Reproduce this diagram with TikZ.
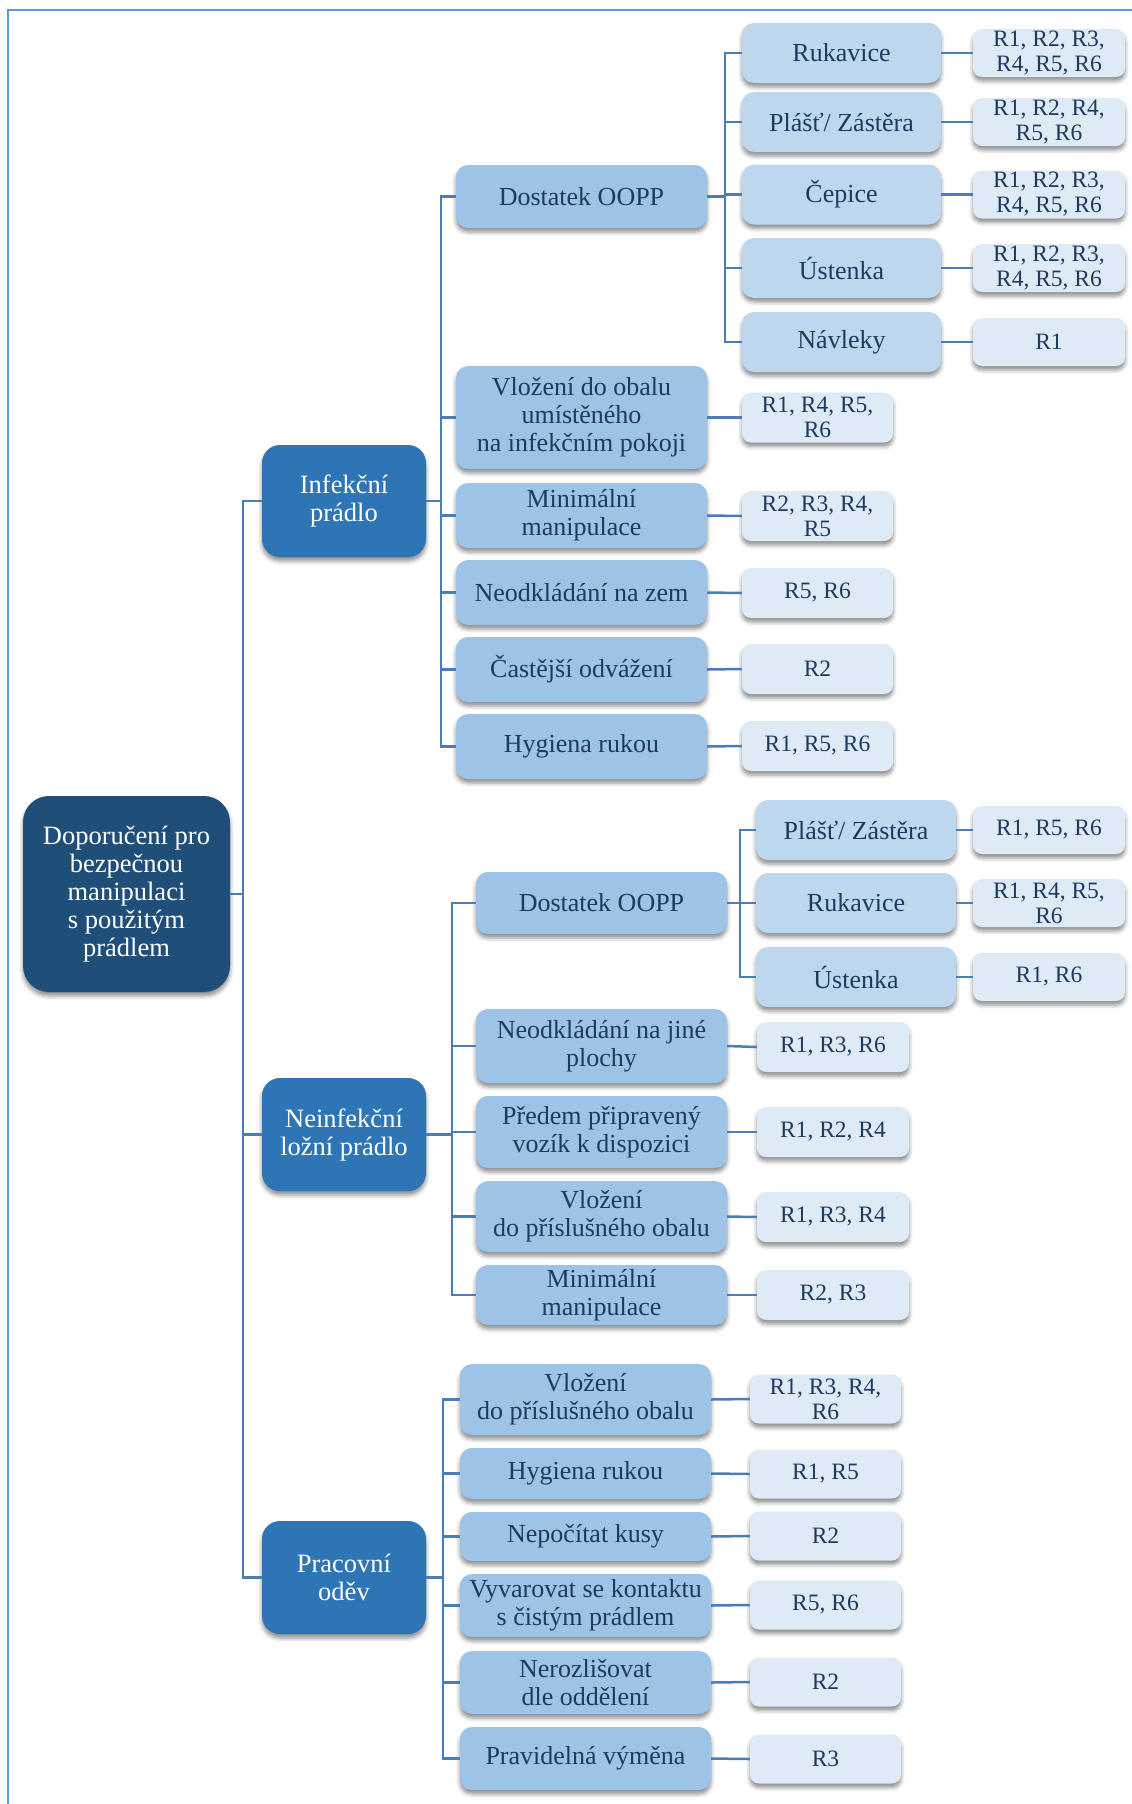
\documentclass[tikz,border=0pt]{standalone}
\usepackage{fontspec}
\setmainfont{Liberation Serif}
\usetikzlibrary{shadows.blur}
\definecolor{rootc}{HTML}{1F4E79}
\definecolor{lonec}{HTML}{2E75B6}
\definecolor{ltwoc}{HTML}{9DC3E6}
\definecolor{lthreec}{HTML}{BDD7EE}
\definecolor{rc}{HTML}{DEEBF7}
\definecolor{txtc}{HTML}{1F3A5F}
\definecolor{linec}{HTML}{4A7DB8}
\definecolor{framec}{HTML}{5B9BD5}
\tikzset{
  box/.style={rounded corners=10pt, align=center, inner sep=1pt,
    blur shadow={shadow xshift=0pt, shadow yshift=-4pt, shadow blur radius=4pt, shadow opacity=45}},
  rootbox/.style={box, fill=rootc, text=white, rounded corners=26pt, font=\fontsize{26.5}{28}\selectfont},
  onebox/.style={box, fill=lonec, text=white, rounded corners=18pt, font=\fontsize{26.5}{28}\selectfont},
  twobox/.style={box, fill=ltwoc, text=txtc, rounded corners=12pt, minimum width=251pt, font=\fontsize{26}{28}\selectfont},
  threebox/.style={box, fill=lthreec, text=txtc, rounded corners=12pt, minimum height=60pt, font=\fontsize{26}{28}\selectfont},
  rbox/.style={box, fill=rc, text=txtc, rounded corners=9pt, font=\fontsize{23.5}{25}\selectfont},
  conn/.style={draw=linec, line width=2.5pt},
}
\begin{document}
\begin{tikzpicture}[x=1pt,y=-1pt]
\useasboundingbox (0,0) rectangle (1132,1804);
\draw[framec, line width=2pt] (7.5,1804) -- (7.5,10) -- (1132,10);

% bars
\coordinate (bT) at (243,0);
\coordinate (bI) at (441,0);
\coordinate (bID) at (725,0);
\coordinate (bN) at (452,0);
\coordinate (bND) at (740,0);
\coordinate (bP) at (443,0);

% root and level 1
\node[rootbox, minimum width=207pt, minimum height=196pt] (root) at (126.5,894) {Doporučení pro\\bezpečnou\\manipulaci\\s použitým\\prádlem};
\node[onebox, minimum width=164pt, minimum height=112pt] (inf) at (344,501) {Infekční\\prádlo};
\node[onebox, minimum width=164pt, minimum height=113pt] (neinf) at (344,1134.5) {Neinfekční\\ložní prádlo};
\node[onebox, minimum width=164pt, minimum height=113pt] (prac) at (344,1577.5) {Pracovní\\oděv};

% Infekční level 2
\node[twobox, minimum height=63pt] (i1) at (581.5,196.5) {Dostatek OOPP};
\node[twobox, minimum height=103pt] (i2) at (581.5,417.5) {Vložení do obalu\\umístěného\\na infekčním pokoji};
\node[twobox, minimum height=65pt] (i3) at (581.5,515.5) {Minimální\\manipulace};
\node[twobox, minimum height=65pt] (i4) at (581.5,592.5) {Neodkládání na zem};
\node[twobox, minimum height=65pt] (i5) at (581.5,669.5) {Častější odvážení};
\node[twobox, minimum height=65pt] (i6) at (581.5,746.5) {Hygiena rukou};

% Infekční R
\node[rbox, minimum width=151pt, minimum height=50pt] (ir2) at (817.5,417.5) {R1, R4, R5,\\R6};
\node[rbox, minimum width=151pt, minimum height=50pt] (ir3) at (817.5,516) {R2, R3, R4,\\R5};
\node[rbox, minimum width=151pt, minimum height=50pt] (ir4) at (817.5,593) {R5, R6};
\node[rbox, minimum width=151pt, minimum height=50pt] (ir5) at (817.5,669) {R2};
\node[rbox, minimum width=151pt, minimum height=50pt] (ir6) at (817.5,746) {R1, R5, R6};

% Infekční Dostatek level 3
\node[threebox, minimum width=199pt] (id1) at (841.5,53) {Rukavice};
\node[threebox, minimum width=199pt] (id2) at (841.5,122) {Plášť/ Zástěra};
\node[threebox, minimum width=199pt] (id3) at (841.5,194.5) {Čepice};
\node[threebox, minimum width=199pt] (id4) at (841.5,268) {Ústenka};
\node[threebox, minimum width=199pt] (id5) at (841.5,342) {Návleky};
\node[rbox, minimum width=152pt, minimum height=48pt] (idr1) at (1049,53) {R1, R2, R3,\\R4, R5, R6};
\node[rbox, minimum width=152pt, minimum height=48pt] (idr2) at (1049,122) {R1, R2, R4,\\R5, R6};
\node[rbox, minimum width=152pt, minimum height=48pt] (idr3) at (1049,194.5) {R1, R2, R3,\\R4, R5, R6};
\node[rbox, minimum width=152pt, minimum height=48pt] (idr4) at (1049,268) {R1, R2, R3,\\R4, R5, R6};
\node[rbox, minimum width=152pt, minimum height=48pt] (idr5) at (1049,342) {R1};

% Neinfekční level 2
\node[twobox, minimum height=62pt] (n1) at (601.5,903) {Dostatek OOPP};
\node[twobox, minimum height=74pt] (n2) at (601.5,1046) {Neodkládání na jiné\\plochy};
\node[twobox, minimum height=72pt] (n3) at (601.5,1132) {Předem připravený\\vozík k dispozici};
\node[twobox, minimum height=71pt] (n4) at (601.5,1216.5) {Vložení\\do příslušného obalu};
\node[twobox, minimum height=60pt] (n5) at (601.5,1295) {Minimální\\manipulace};
\node[rbox, minimum width=152pt, minimum height=50pt] (nr2) at (833,1047) {R1, R3, R6};
\node[rbox, minimum width=152pt, minimum height=50pt] (nr3) at (833,1132) {R1, R2, R4};
\node[rbox, minimum width=152pt, minimum height=50pt] (nr4) at (833,1217) {R1, R3, R4};
\node[rbox, minimum width=152pt, minimum height=50pt] (nr5) at (833,1295) {R2, R3};

% Neinfekční Dostatek level 3
\node[threebox, minimum width=200pt] (nd1) at (856,830) {Plášť/ Zástěra};
\node[threebox, minimum width=200pt] (nd2) at (856,903) {Rukavice};
\node[threebox, minimum width=200pt] (nd3) at (856,977) {Ústenka};
\node[rbox, minimum width=152pt, minimum height=48pt] (ndr1) at (1049,830) {R1, R5, R6};
\node[rbox, minimum width=152pt, minimum height=48pt] (ndr2) at (1049,903) {R1, R4, R5,\\R6};
\node[rbox, minimum width=152pt, minimum height=48pt] (ndr3) at (1049,977) {R1, R6};

% Pracovní level 2
\node[twobox, minimum height=71pt] (p1) at (585.5,1399.5) {Vložení\\do příslušného obalu};
\node[twobox, minimum height=51pt] (p2) at (585.5,1473.5) {Hygiena rukou};
\node[twobox, minimum height=49pt] (p3) at (585.5,1536.5) {Nepočítat kusy};
\node[twobox, minimum height=63pt] (p4) at (585.5,1605.5) {Vyvarovat se kontaktu\\s čistým prádlem};
\node[twobox, minimum height=63pt] (p5) at (585.5,1682.5) {Nerozlišovat\\dle oddělení};
\node[twobox, minimum height=63pt] (p6) at (585.5,1758.5) {Pravidelná výměna};
\node[rbox, minimum width=151pt, minimum height=49pt] (pr1) at (825.5,1399) {R1, R3, R4,\\R6};
\node[rbox, minimum width=151pt, minimum height=49pt] (pr2) at (825.5,1474) {R1, R5};
\node[rbox, minimum width=151pt, minimum height=49pt] (pr3) at (825.5,1536) {R2};
\node[rbox, minimum width=151pt, minimum height=49pt] (pr4) at (825.5,1605) {R5, R6};
\node[rbox, minimum width=151pt, minimum height=49pt] (pr5) at (825.5,1682) {R2};
\node[rbox, minimum width=151pt, minimum height=49pt] (pr6) at (825.5,1759) {R3};

% connectors
\foreach \c in {inf,neinf,prac}
  \draw[conn] (root.east) -- (root.east -| bT) |- (\c.west);
\foreach \c in {i1,i2,i3,i4,i5,i6}
  \draw[conn] (inf.east) -- (inf.east -| bI) |- (\c.west);
\foreach \c in {id1,id2,id3,id4,id5}
  \draw[conn] (i1.east) -- (i1.east -| bID) |- (\c.west);
\foreach \a/\b in {id1/idr1,id2/idr2,id3/idr3,id4/idr4,id5/idr5,i2/ir2,i3/ir3,i4/ir4,i5/ir5,i6/ir6}
  \draw[conn] (\a.east) -- (\b.west);
\foreach \c in {n1,n2,n3,n4,n5}
  \draw[conn] (neinf.east) -- (neinf.east -| bN) |- (\c.west);
\foreach \c in {nd1,nd2,nd3}
  \draw[conn] (n1.east) -- (n1.east -| bND) |- (\c.west);
\foreach \a/\b in {nd1/ndr1,nd2/ndr2,nd3/ndr3,n2/nr2,n3/nr3,n4/nr4,n5/nr5}
  \draw[conn] (\a.east) -- (\b.west);
\foreach \c in {p1,p2,p3,p4,p5,p6}
  \draw[conn] (prac.east) -- (prac.east -| bP) |- (\c.west);
\foreach \a/\b in {p1/pr1,p2/pr2,p3/pr3,p4/pr4,p5/pr5,p6/pr6}
  \draw[conn] (\a.east) -- (\b.west);
\end{tikzpicture}
\end{document}
